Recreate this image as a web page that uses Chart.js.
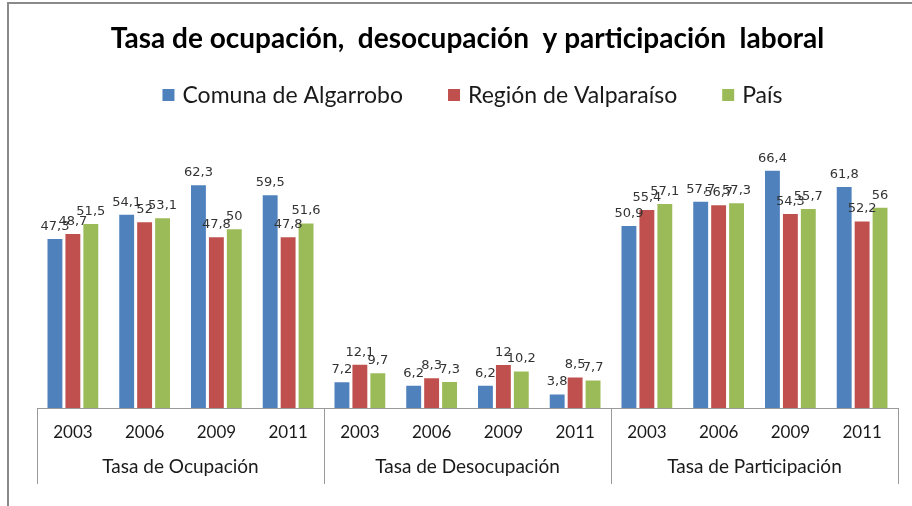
<!DOCTYPE html>
<html>
<head>
<meta charset="utf-8">
<script src="https://cdn.jsdelivr.net/npm/chart.js@4.4.1/dist/chart.umd.min.js"></script>
<style>
    html, body { margin: 0; padding: 0; background: #fff; overflow: hidden; }
    #frame { position: absolute; left: 7px; top: 2px; border: 2px solid #8a8a8a; }
    canvas { display: block; }
</style>
</head>
<body>
<div id="frame"><canvas id="chart" width="915" height="510"></canvas></div>
<script>
// Datos del gráfico
const years = ['2003', '2006', '2009', '2011', '2003', '2006', '2009', '2011', '2003', '2006', '2009', '2011'];
const groups = ['Tasa de Ocupación', 'Tasa de Desocupación', 'Tasa de Participación'];
const seriesNames = ['Comuna de Algarrobo', 'Región de Valparaíso', 'País'];
const algarrobo = [47.3, 54.1, 62.3, 59.5, 7.2, 6.2, 6.2, 3.8, 50.9, 57.7, 66.4, 61.8];
const valparaiso = [48.7, 52, 47.8, 47.8, 12.1, 8.3, 12, 8.5, 55.4, 56.7, 54.3, 52.2];
const pais = [51.5, 53.1, 50, 51.6, 9.7, 7.3, 10.2, 7.7, 57.1, 57.3, 55.7, 56];
const colors = ['#4f81bd', '#c0504d', '#9bbb59'];

const font = 'Lato, "Open Sans", sans-serif';

// Etiquetas de valor con coma decimal
const valueLabels = {
    id: 'valueLabels',
    afterDatasetsDraw(chart) {
        const ctx = chart.ctx;
        ctx.save();
        ctx.font = '13px "DejaVu Sans", sans-serif';
        ctx.fillStyle = '#333';
        ctx.textAlign = 'center';
        ctx.textBaseline = 'bottom';
        chart.data.datasets.forEach((ds, i) => {
            chart.getDatasetMeta(i).data.forEach((bar, j) => {
                const txt = String(ds.data[j]).replace('.', ',');
                ctx.fillText(txt, bar.x, bar.y - 6);
            });
        });
        ctx.restore();
    }
};

// Leyenda dibujada a mano (cuadro + texto)
const topLegend = {
    id: 'topLegend',
    afterDraw(chart) {
        const ctx = chart.ctx;
        ctx.save();
        ctx.font = '23px ' + font;
        ctx.textBaseline = 'middle';
        const box = 12, gap = 8, spacing = 45, y = 91;
        const items = chart.data.datasets.map(ds => ({ text: ds.label, color: ds.backgroundColor }));
        const widths = items.map(it => box + gap + ctx.measureText(it.text).width);
        const total = widths.reduce((a, b) => a + b, 0) + spacing * (items.length - 1);
        let x = chart.width / 2 - total / 2 + 6;
        items.forEach((it, i) => {
            ctx.fillStyle = it.color;
            ctx.fillRect(x, y - box / 2, box, box);
            ctx.fillStyle = '#1a1a1a';
            ctx.fillText(it.text, x + box + gap, y + 1);
            x += widths[i] + spacing;
        });
        ctx.restore();
    }
};

// Segundo nivel del eje X: separadores y nombres de grupo
const groupAxis = {
    id: 'groupAxis',
    afterDraw(chart) {
        const ctx = chart.ctx;
        const xs = chart.scales.x;
        const bottom = chart.chartArea.bottom;
        const perGroup = years.length / groups.length;
        ctx.save();
        ctx.strokeStyle = '#9a9a9a';
        ctx.lineWidth = 1;
        for (let g = 0; g <= groups.length; g++) {
            const px = Math.round(xs.getPixelForValue(g * perGroup - 0.5)) + 0.5;
            ctx.beginPath();
            ctx.moveTo(px, bottom);
            ctx.lineTo(px, bottom + 76);
            ctx.stroke();
        }
        ctx.font = '19px ' + font;
        ctx.fillStyle = '#1a1a1a';
        ctx.textAlign = 'center';
        ctx.textBaseline = 'middle';
        groups.forEach((name, g) => {
            const mid = xs.getPixelForValue(g * perGroup + (perGroup - 1) / 2);
            ctx.fillText(name, mid, bottom + 59);
        });
        ctx.restore();
    }
};

new Chart(document.getElementById('chart'), {
    type: 'bar',
    data: {
        labels: years,
        datasets: [
            { label: seriesNames[0], data: algarrobo, backgroundColor: colors[0] },
            { label: seriesNames[1], data: valparaiso, backgroundColor: colors[1] },
            { label: seriesNames[2], data: pais, backgroundColor: colors[2] }
        ]
    },
    options: {
        responsive: false,
        animation: false,
        layout: { padding: { left: 28, right: 26, top: 0, bottom: 0 } },
        datasets: { bar: { categoryPercentage: 0.75, barPercentage: 0.83 } },
        plugins: {
            legend: { display: false },
            tooltip: { enabled: false },
            title: {
                display: true,
                text: 'Tasa de ocupación,  desocupación  y participación  laboral',
                color: '#000',
                font: { family: font, size: 28, weight: 'bold', lineHeight: 1.1 },
                padding: { top: 20, bottom: 103 }
            }
        },
        scales: {
            x: {
                grid: { display: false, drawTicks: false },
                border: { display: true, color: '#9a9a9a' },
                ticks: { color: '#1a1a1a', font: { family: font, size: 17 }, padding: 14, maxRotation: 0, autoSkip: false },
                afterFit(scale) { scale.height = 106; }
            },
            y: { display: false, min: 0, max: 70 }
        }
    },
    plugins: [valueLabels, topLegend, groupAxis]
});
</script>
</body>
</html>
